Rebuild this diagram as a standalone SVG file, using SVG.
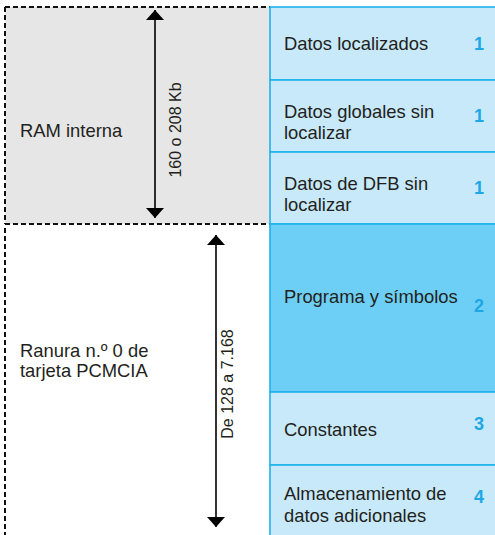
<svg xmlns="http://www.w3.org/2000/svg" width="495" height="535" viewBox="0 0 495 535">
<defs>
<style>
.lbl{font-family:"Liberation Sans",Arial,sans-serif;font-size:18.4px;fill:#231f20}
.rot{font-family:"Liberation Sans",Arial,sans-serif;font-size:16px;fill:#231f20}
.num{font-family:"Liberation Sans",Arial,sans-serif;font-size:18px;font-weight:bold;fill:#1ea7e4}
.dash{fill:none;stroke:#111;stroke-width:2;stroke-dasharray:5 3}
.cell{fill:#c7e9f9;stroke:#1fb2ec;stroke-width:1.6}
.cellDark{fill:#6dcff6;stroke:#1fb2ec;stroke-width:1.6}
.arr{stroke:#000;stroke-width:1.6;fill:none}
</style>
<marker id="ah" viewBox="0 0 10 18" refX="10" refY="9" markerWidth="10" markerHeight="18" markerUnits="userSpaceOnUse" orient="auto-start-reverse">
<path d="M0,0 L10,9 L0,18 Z" fill="#000"/>
</marker>
</defs>
<rect width="495" height="535" fill="#fff"/>
<g id="ram">
<rect x="5" y="7" width="265" height="217" fill="#e6e6e6"/>
<path class="dash" d="M5,7 H270 M5,7 V224 M5,224 H270"/>
<text class="lbl" x="20" y="137">RAM interna</text>
</g>
<g id="pcmcia">
<path class="dash" d="M5,228 V535"/>
<text class="lbl" x="20" y="357">Ranura n.º 0 de</text>
<text class="lbl" x="20" y="377">tarjeta PCMCIA</text>
</g>
<g id="datos-localizados">
<rect class="cell" x="270" y="7" width="230" height="73"/>
<text class="lbl" x="284" y="50">Datos localizados</text>
<text class="num" x="474" y="50">1</text>
</g>
<g id="datos-globales">
<rect class="cell" x="270" y="80" width="230" height="72"/>
<text class="lbl" x="284" y="118">Datos globales sin</text>
<text class="lbl" x="284" y="139">localizar</text>
<text class="num" x="474" y="122">1</text>
</g>
<g id="datos-dfb">
<rect class="cell" x="270" y="152" width="230" height="72"/>
<text class="lbl" x="284" y="190">Datos de DFB sin</text>
<text class="lbl" x="284" y="211">localizar</text>
<text class="num" x="474" y="194">1</text>
</g>
<g id="programa">
<rect class="cellDark" x="270" y="224" width="230" height="168"/>
<text class="lbl" x="284" y="303">Programa y símbolos</text>
<text class="num" x="474" y="312">2</text>
</g>
<g id="constantes">
<rect class="cell" x="270" y="392" width="230" height="73"/>
<text class="lbl" x="284" y="436">Constantes</text>
<text class="num" x="474" y="430">3</text>
</g>
<g id="almacenamiento">
<rect class="cell" x="270" y="465" width="230" height="80"/>
<text class="lbl" x="284" y="500">Almacenamiento de</text>
<text class="lbl" x="284" y="522">datos adicionales</text>
<text class="num" x="474" y="503">4</text>
</g>
<g id="connectors">
<line class="arr" x1="155" y1="10" x2="155" y2="218" marker-start="url(#ah)" marker-end="url(#ah)"/>
<line class="arr" x1="216" y1="235" x2="216" y2="527" marker-start="url(#ah)" marker-end="url(#ah)"/>
<text class="rot" transform="translate(181,130) rotate(-90)" text-anchor="middle">160 o 208 Kb</text>
<text class="rot" transform="translate(233,384) rotate(-90)" text-anchor="middle">De 128 a 7.168</text>
</g>
</svg>
